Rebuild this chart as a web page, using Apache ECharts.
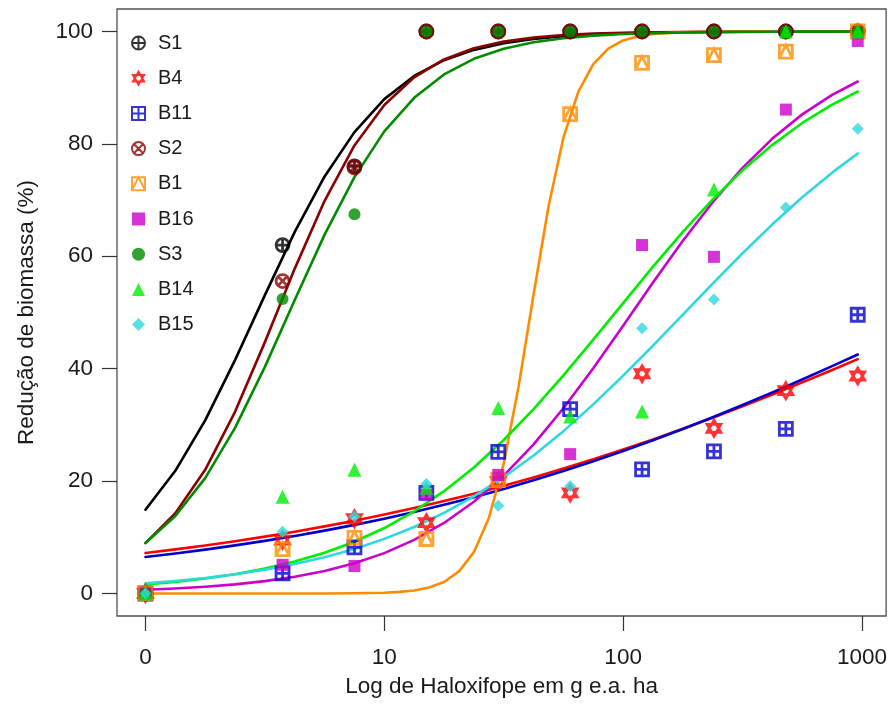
<!DOCTYPE html>
<html><head><meta charset="utf-8">
<script src="https://cdn.jsdelivr.net/npm/echarts@6/dist/echarts.min.js"></script>
<style>html,body{margin:0;padding:0;background:#fff}#c{width:890px;height:724px}</style>
</head><body><div id="c"></div>
<script>
// ---- data (doses in g e.a./ha; control plotted at 1 and labelled "0") ----
const doses = [1, 3.75, 7.5, 15, 30, 60, 120, 240, 480, 960];
const xTickValues = [1, 10, 100, 1000];
const xTickLabels = ['0', '10', '100', '1000'];
const yTickValues = [0, 20, 40, 60, 80, 100];
const seriesNames = ['S1', 'B4', 'B11', 'S2', 'B1', 'B16', 'S3', 'B14', 'B15'];

const S1  = [0, 62.0, 76.0, 100, 100, 100, 100, 100, 100, 100];
const B4  = [0, 9.5, 13.3, 12.6, 19.9, 17.9, 39.1, 29.4, 36.1, 38.7];
const B11 = [0, 3.6, 8.2, 17.9, 25.2, 32.8, 22.1, 25.3, 29.3, 49.6];
const S2  = [0, 55.6, 75.8, 100, 100, 100, 100, 100, 100, 100];
const B1  = [0, 7.9, 9.9, 9.7, 20.2, 85.3, 94.4, 95.8, 96.4, 100];
const B16 = [0, 5.1, 4.9, 17.6, 21.1, 24.8, 62.0, 59.9, 86.1, 98.3];
const S3  = [0, 52.4, 67.5, 100, 100, 100, 100, 100, 100, 100];
const B14 = [0, 17.2, 22.0, 18.8, 33.0, 31.5, 32.4, 71.9, 100, 100];
const B15 = [0, 11.0, 13.7, 19.5, 15.6, 19.1, 47.2, 52.3, 68.7, 82.7];

// fitted curves at these doses (1/8-decade steps)
const curveDoses = [1, 1.3335, 1.7783, 2.3714, 3.1623, 4.2170, 5.6234, 7.4989, 10, 13.335, 17.783, 23.714,
  31.623, 42.170, 56.234, 74.989, 100, 133.35, 177.83, 237.14, 316.23, 421.70, 562.34, 749.89, 960];
const fitS1  = [14.91, 21.83, 30.81, 41.52, 53.09, 64.34, 74.20, 82.09, 87.96, 92.09, 94.89, 96.73, 97.92,
  98.69, 99.17, 99.48, 99.67, 99.79, 99.87, 99.92, 99.95, 99.97, 99.98, 99.99, 99.99];
const fitB4  = [7.20, 7.85, 8.55, 9.31, 10.12, 11.00, 11.95, 12.96, 14.05, 15.21, 16.45, 17.77, 19.17,
  20.66, 22.23, 23.87, 25.61, 27.42, 29.31, 31.28, 33.31, 35.41, 37.57, 39.77, 41.70];
const fitB11 = [6.50, 7.13, 7.81, 8.56, 9.37, 10.24, 11.19, 12.21, 13.32, 14.50, 15.78, 17.14, 18.59,
  20.14, 21.78, 23.52, 25.34, 27.26, 29.27, 31.37, 33.54, 35.78, 38.09, 40.45, 42.52];
const fitS2  = [8.96, 14.28, 22.01, 32.33, 44.73, 57.81, 69.88, 79.72, 86.93, 91.85, 95.02, 97.00, 98.20,
  98.93, 99.37, 99.63, 99.78, 99.87, 99.92, 99.95, 99.97, 99.98, 99.99, 99.99, 100];
const fitB16 = [0.66, 0.89, 1.21, 1.63, 2.21, 2.98, 4.02, 5.39, 7.19, 9.54, 12.55, 16.33, 20.98,
  26.54, 32.96, 40.09, 47.65, 55.33, 62.77, 69.63, 75.73, 80.94, 85.25, 88.71, 91.10];
const fitS3  = [8.99, 13.78, 20.53, 29.47, 40.33, 52.22, 63.86, 74.08, 82.22, 88.20, 92.36, 95.13, 96.93,
  98.08, 98.80, 99.26, 99.54, 99.71, 99.82, 99.89, 99.93, 99.96, 99.97, 99.98, 99.99];
const fitB14 = [1.60, 2.07, 2.67, 3.44, 4.43, 5.68, 7.25, 9.22, 11.65, 14.63, 18.21, 22.43, 27.31,
  32.80, 38.80, 45.16, 51.68, 58.15, 64.35, 70.11, 75.29, 79.83, 83.72, 86.98, 89.32];
const fitB15 = [1.80, 2.23, 2.77, 3.44, 4.25, 5.25, 6.46, 7.94, 9.72, 11.84, 14.35, 17.30, 20.70,
  24.57, 28.89, 33.65, 38.76, 44.12, 49.63, 55.15, 60.54, 65.69, 70.49, 74.88, 78.28];
const curveDosesB1 = [1, 3.1623, 5.6234, 7.4989, 10, 11.548, 13.335, 15.399, 17.783, 20.535, 23.714, 27.384,
  31.623, 36.517, 42.170, 48.697, 56.234, 64.938, 74.989, 86.596, 100, 115.48, 133.35, 177.83, 316.23, 562.34, 960];
const fitB1 = [0, 0, 0.01, 0.04, 0.15, 0.29, 0.55, 1.07, 2.06, 3.93, 7.36, 13.39, 23.12, 36.89, 53.20,
  68.85, 81.12, 89.31, 94.20, 96.93, 98.40, 99.17, 99.57, 99.89, 99.99, 100, 100];

// ---- styles ----
const SYM = {
  circlePlus: 'path://M0,-10A10,10 0 1,1 0,10A10,10 0 1,1 0,-10ZM-10,0L10,0M0,-10L0,10',
  star: 'path://M0,-10L8.66,5L-8.66,5ZM0,10L8.66,-5L-8.66,-5Z',
  squarePlus: 'path://M-10,-10L10,-10L10,10L-10,10ZM-10,0L10,0M0,-10L0,10',
  circleX: 'path://M0,-10A10,10 0 1,1 0,10A10,10 0 1,1 0,-10ZM-7.07,-7.07L7.07,7.07M7.07,-7.07L-7.07,7.07',
  squareTri: 'path://M-10,-10L10,-10L10,10L-10,10ZM-10,10L0,-10L10,10'
};
const styles = {
  S1:  {color: '#000000', symbol: SYM.circlePlus, open: true, size: 13},
  B4:  {color: '#FF0000', symbol: SYM.star, open: true, size: 16},
  B11: {color: '#0000CD', symbol: SYM.squarePlus, open: true, size: 13},
  S2:  {color: '#8B0000', symbol: SYM.circleX, open: true, size: 13},
  B1:  {color: '#FF8C00', symbol: SYM.squareTri, open: true, size: 13},
  B16: {color: '#CC00CC', symbol: 'rect', open: false, size: 12},
  S3:  {color: '#008B00', symbol: 'circle', open: false, size: 12},
  B14: {color: '#00EE00', symbol: 'triangle', open: false, size: 14},
  B15: {color: '#2ED8DC', symbol: 'diamond', open: false, size: 12}
};
const pointData = {S1, B4, B11, S2, B1, B16, S3, B14, B15};
const fits = {S1: fitS1, B4: fitB4, B11: fitB11, S2: fitS2, B1: fitB1, B16: fitB16, S3: fitS3, B14: fitB14, B15: fitB15};

const series = [];
seriesNames.forEach(name => {
  const st = styles[name];
  series.push({
    name: name, type: 'scatter',
    symbol: st.symbol, symbolSize: st.size, symbolKeepAspect: true,
    itemStyle: st.open
      ? {color: 'rgba(255,255,255,0)', borderColor: st.color, borderWidth: 2.8}
      : {color: st.color},
    data: doses.map((d, i) => [d, pointData[name][i]]),
    z: 3
  });
  const cx = name === 'B1' ? curveDosesB1 : curveDoses;
  series.push({
    name: name + ' fit', type: 'line', smooth: false, showSymbol: false, symbol: 'none',
    lineStyle: {color: st.color, width: 2.6, join: 'round', cap: 'round'},
    itemStyle: {color: st.color},
    data: cx.map((d, i) => [d, fits[name][i]]),
    z: 2, silent: true
  });
});

const font = 'Liberation Sans, Arial, sans-serif';
const axisFont = 22.5;
const chart = echarts.init(document.getElementById('c'), null, {renderer: 'canvas'});
chart.setOption({
  animation: false,
  backgroundColor: '#ffffff',
  textStyle: {fontFamily: font},
  grid: {left: 117, right: 1, top: 9, bottom: 108, show: true, borderColor: '#505050', borderWidth: 1.3, containLabel: false},
  legend: {
    orient: 'vertical', left: 131, top: 33, padding: 0,
    itemWidth: 13, itemHeight: 13, itemGap: 15.2,
    data: seriesNames,
    textStyle: {fontSize: 20, color: '#1a1a1a', fontFamily: font, padding: [0, 0, 0, 8]}
  },
  xAxis: {
    type: 'log', logBase: 10, min: 0.76, max: 1262,
    axisLine: {show: false, onZero: false},
    splitLine: {show: false},
    axisTick: {show: true, inside: false, length: 15, lineStyle: {color: '#333', width: 1.2}, customValues: xTickValues},
    axisLabel: {
      customValues: xTickValues, margin: 30, fontSize: axisFont, color: '#1a1a1a', fontFamily: font,
      formatter: v => { const i = xTickValues.findIndex(t => Math.abs(t - v) < 1e-6 * t); return i >= 0 ? xTickLabels[i] : ''; }
    },
    name: 'Log de Haloxifope em g e.a. ha', nameLocation: 'middle', nameGap: 59,
    nameTextStyle: {fontSize: axisFont, color: '#1a1a1a', fontFamily: font}
  },
  yAxis: {
    type: 'value', min: -4, max: 104,
    axisLine: {show: false, onZero: false},
    splitLine: {show: false},
    axisTick: {show: true, inside: false, length: 15, lineStyle: {color: '#333', width: 1.2}, customValues: yTickValues},
    axisLabel: {customValues: yTickValues, margin: 24, fontSize: axisFont, color: '#1a1a1a', fontFamily: font},
    name: 'Redução de biomassa (%)', nameLocation: 'middle', nameGap: 79,
    nameTextStyle: {fontSize: axisFont, color: '#1a1a1a', fontFamily: font}
  },
  series: series
});
</script></body></html>
